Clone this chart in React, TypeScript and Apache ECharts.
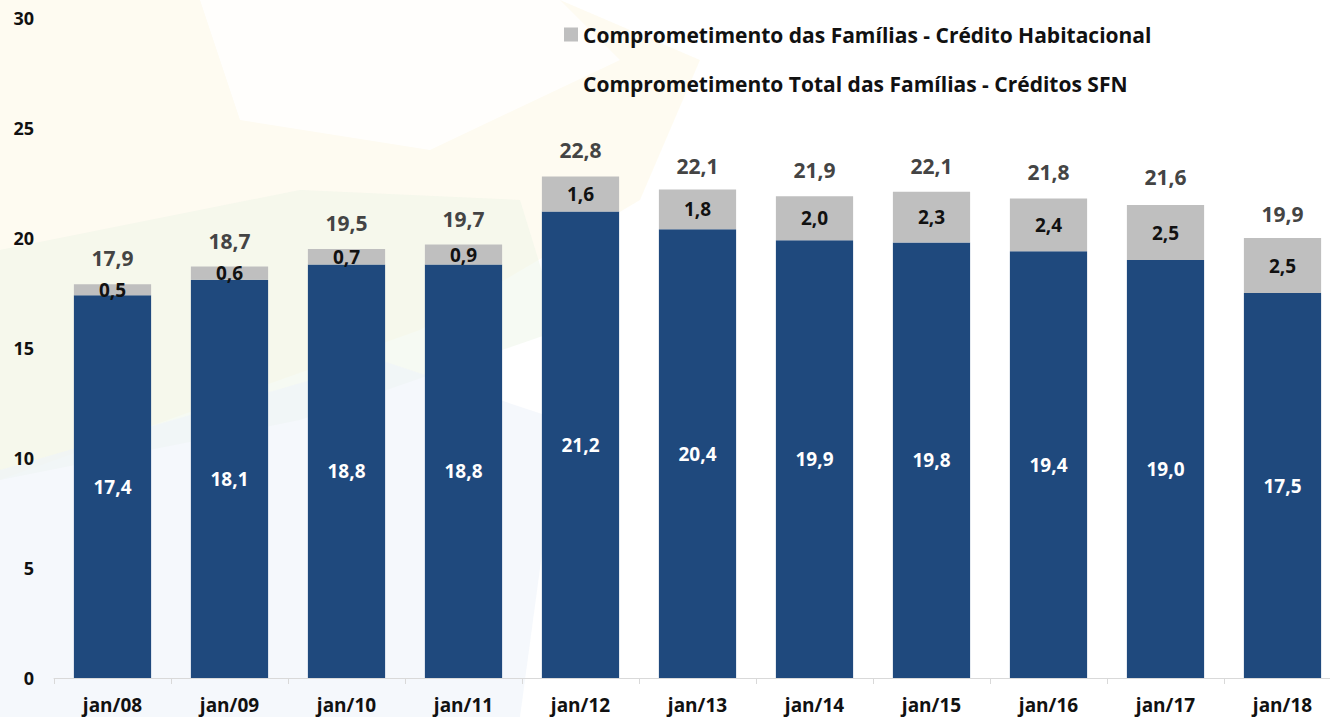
import React, { useEffect, useRef } from "react";
import * as echarts from "echarts";

const categories = ["jan/08", "jan/09", "jan/10", "jan/11", "jan/12", "jan/13", "jan/14", "jan/15", "jan/16", "jan/17", "jan/18"];
const otherCredit = [17.4, 18.1, 18.8, 18.8, 21.2, 20.4, 19.9, 19.8, 19.4, 19.0, 17.5];
const housingCredit = [0.5, 0.6, 0.7, 0.9, 1.6, 1.8, 2.0, 2.3, 2.4, 2.5, 2.5];
const totalCredit = [17.9, 18.7, 19.5, 19.7, 22.8, 22.1, 21.9, 22.1, 21.8, 21.6, 19.9];
const yTicks = [0, 5, 10, 15, 20, 25, 30];

const fmt = (v: number) => v.toFixed(1).replace(".", ",");
const FONT = "'Open Sans', 'Noto Sans', sans-serif";

export default function App() {
  const ref = useRef<HTMLDivElement>(null);
  useEffect(() => {
    if (!ref.current) return;
    const chart = echarts.init(ref.current, undefined, { renderer: "svg" });
    chart.setOption({
      animation: false,
      backgroundColor: "#ffffff",
      textStyle: { fontFamily: FONT },
      graphic: [
        {
          type: "polygon",
          z: -10,
          silent: true,
          shape: { points: [[0, 0], [560, 0], [700, 60], [640, 200], [420, 330], [0, 480]] },
          style: { fill: "#fdf8e6", opacity: 0.55 },
        },
        {
          type: "polygon",
          z: -9,
          silent: true,
          shape: { points: [[0, 250], [300, 190], [520, 200], [560, 330], [300, 420], [0, 480]] },
          style: { fill: "#eef5e8", opacity: 0.5 },
        },
        {
          type: "polygon",
          z: -9,
          silent: true,
          shape: { points: [[0, 470], [380, 360], [560, 420], [520, 717], [0, 717]] },
          style: { fill: "#eef3fa", opacity: 0.6 },
        },
        {
          type: "polygon",
          z: -8,
          silent: true,
          shape: { points: [[200, 0], [560, 0], [620, 60], [430, 150], [240, 120]] },
          style: { fill: "#ffffff", opacity: 0.8 },
        },
      ],
      legend: {
        orient: "vertical",
        left: 559,
        top: 19,
        itemGap: 28,
        itemWidth: 14,
        itemHeight: 14,
        textStyle: { fontSize: 21, fontWeight: "bold", color: "#111", fontFamily: FONT },
        data: [
          { name: "Comprometimento das Famílias - Crédito Habitacional", icon: "rect" },
          { name: "Comprometimento Total das Famílias - Créditos SFN", icon: "none" },
        ],
      },
      grid: { left: 54, width: 1287, top: 18, height: 660, containLabel: false },
      xAxis: {
        type: "category",
        data: categories,
        axisLine: { lineStyle: { color: "#d9d9d9" } },
        axisTick: { show: true, length: 6, lineStyle: { color: "#d9d9d9" } },
        axisLabel: { fontSize: 19, fontWeight: "bold", color: "#111", margin: 17, fontFamily: FONT },
      },
      yAxis: {
        type: "value",
        min: yTicks[0],
        max: yTicks[yTicks.length - 1],
        interval: 5,
        splitLine: { show: false },
        axisLine: { show: false },
        axisTick: { show: false },
        axisLabel: { fontSize: 18, fontWeight: "bold", color: "#111", margin: 20, fontFamily: FONT },
      },
      series: [
        {
          name: "Outros",
          type: "bar",
          stack: "s",
          barWidth: "66%",
          data: otherCredit,
          itemStyle: { color: "#1f497d" },
          label: {
            show: true,
            position: "inside",
            color: "#ffffff",
            fontSize: 19,
            fontWeight: "bold",
            fontFamily: FONT,
            formatter: (p: any) => fmt(p.value),
          },
        },
        {
          name: "Comprometimento das Famílias - Crédito Habitacional",
          type: "bar",
          stack: "s",
          data: housingCredit,
          itemStyle: { color: "#bfbfbf" },
          label: {
            show: true,
            position: "inside",
            color: "#111",
            fontSize: 19,
            fontWeight: "bold",
            fontFamily: FONT,
            formatter: (p: any) => fmt(p.value),
          },
        },
        {
          name: "Comprometimento Total das Famílias - Créditos SFN",
          type: "line",
          data: totalCredit,
          symbol: "circle",
          symbolSize: 1,
          showSymbol: true,
          lineStyle: { color: "rgba(0,0,0,0)", width: 0 },
          itemStyle: { color: "rgba(0,0,0,0)", borderWidth: 0 },
          z: 5,
          label: {
            show: true,
            position: "top",
            distance: 15,
            color: "#444444",
            fontSize: 21,
            fontWeight: "bold",
            fontFamily: FONT,
            formatter: (p: any) => fmt(p.value),
          },
        },
      ],
    });
    return () => chart.dispose();
  }, []);
  return (
    <div style={{ position: "absolute", left: 0, top: 0, width: 1330, height: 717, overflow: "hidden" }}>
      <div ref={ref} style={{ width: 1345, height: 717 }} />
    </div>
  );
}
